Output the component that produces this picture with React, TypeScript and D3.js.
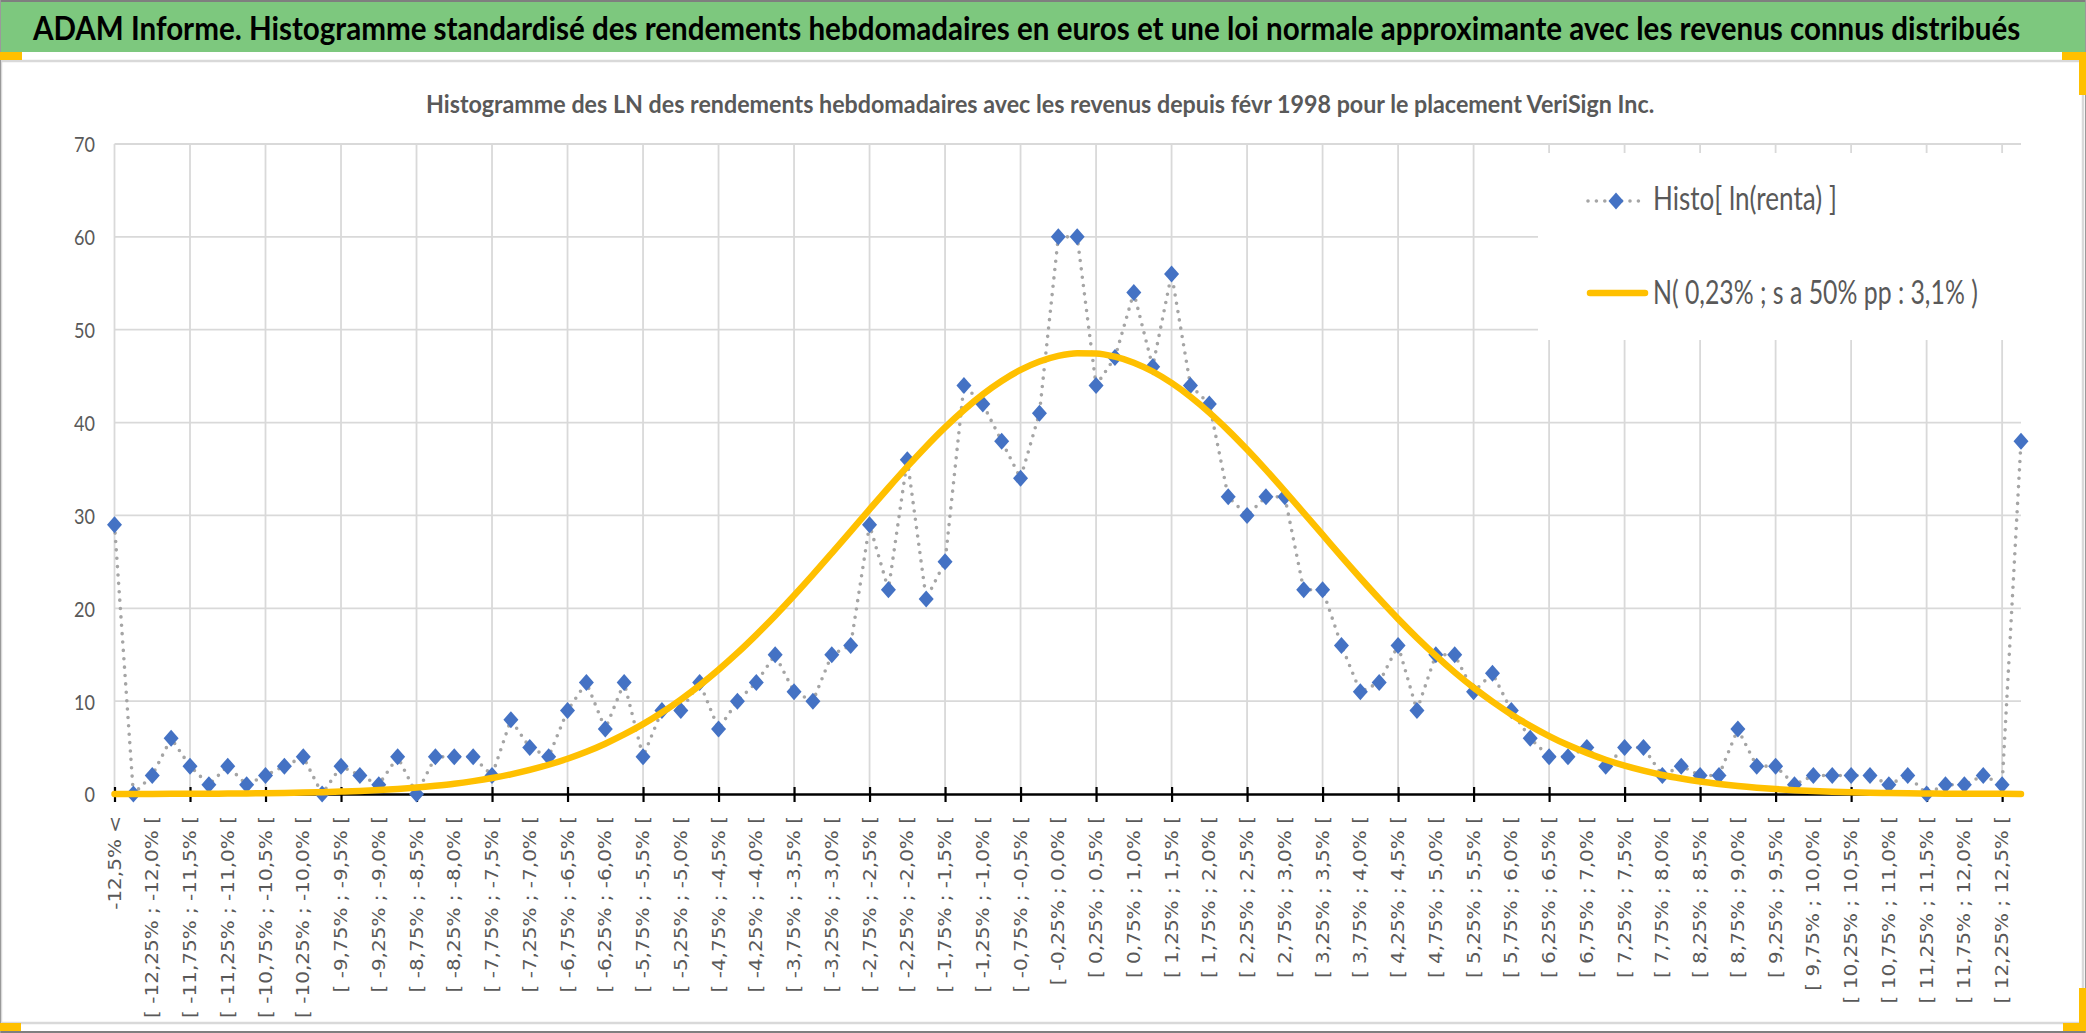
import * as d3 from "d3";
import React, { Component } from "react";

const WIDTH = 2086;
const HEIGHT = 1033;

const chartTitle =
  "ADAM Informe. Histogramme standardisé des rendements hebdomadaires en euros et une loi normale approximante avec les revenus connus distribués";
const chartSubtitle =
  "Histogramme des LN des rendements hebdomadaires avec les revenus depuis févr 1998 pour le placement VeriSign Inc.";
const legendLabels = ["Histo[ ln(renta) ]", "N( 0,23% ; s a 50% pp : 3,1% )"];

// bornes des classes de 0,25 %
const binEdges: string[] = [
  "-12,5", "-12,25", "-12,0", "-11,75", "-11,5", "-11,25", "-11,0", "-10,75", "-10,5", "-10,25",
  "-10,0", "-9,75", "-9,5", "-9,25", "-9,0", "-8,75", "-8,5", "-8,25", "-8,0", "-7,75",
  "-7,5", "-7,25", "-7,0", "-6,75", "-6,5", "-6,25", "-6,0", "-5,75", "-5,5", "-5,25",
  "-5,0", "-4,75", "-4,5", "-4,25", "-4,0", "-3,75", "-3,5", "-3,25", "-3,0", "-2,75",
  "-2,5", "-2,25", "-2,0", "-1,75", "-1,5", "-1,25", "-1,0", "-0,75", "-0,5", "-0,25",
  "0,0", "0,25", "0,5", "0,75", "1,0", "1,25", "1,5", "1,75", "2,0", "2,25",
  "2,5", "2,75", "3,0", "3,25", "3,5", "3,75", "4,0", "4,25", "4,5", "4,75",
  "5,0", "5,25", "5,5", "5,75", "6,0", "6,25", "6,5", "6,75", "7,0", "7,25",
  "7,5", "7,75", "8,0", "8,25", "8,5", "8,75", "9,0", "9,25", "9,5", "9,75",
  "10,0", "10,25", "10,5", "10,75", "11,0", "11,25", "11,5", "11,75", "12,0", "12,25",
  "12,5",
];

const categories: string[] = [
  "-12,5% <",
  ...binEdges.slice(1).map((e, i) => `[ ${binEdges[i]}% ; ${e}% [`),
  "12,5% <=",
];

// effectifs observés par classe
const histoValues: number[] = [
  29, 0, 2, 6, 3, 1, 3, 1, 2, 3,
  4, 0, 3, 2, 1, 4, 0, 4, 4, 4,
  2, 8, 5, 4, 9, 12, 7, 12, 4, 9,
  9, 12, 7, 10, 12, 15, 11, 10, 15, 16,
  29, 22, 36, 21, 25, 44, 42, 38, 34, 41,
  60, 60, 44, 47, 54, 46, 56, 44, 42, 32,
  30, 32, 32, 22, 22, 16, 11, 12, 16, 9,
  15, 15, 11, 13, 9, 6, 4, 4, 5, 3,
  5, 5, 2, 3, 2, 2, 7, 3, 3, 1,
  2, 2, 2, 2, 1, 2, 0, 1, 1, 2,
  1, 38,
];

// loi normale approximante
const normalValues: number[] = [
  0.01, 0.01, 0.01, 0.02, 0.02, 0.03, 0.05, 0.06, 0.08, 0.11,
  0.15, 0.2, 0.26, 0.33, 0.43, 0.55, 0.7, 0.89, 1.11, 1.39,
  1.72, 2.12, 2.59, 3.15, 3.8, 4.55, 5.42, 6.41, 7.52, 8.77,
  10.17, 11.7, 13.38, 15.19, 17.14, 19.2, 21.37, 23.62, 25.94, 28.29,
  30.65, 32.98, 35.25, 37.43, 39.48, 41.36, 43.04, 44.48, 45.67, 46.57,
  47.18, 47.47, 47.45, 47.1, 46.45, 45.5, 44.27, 42.78, 41.07, 39.16,
  37.09, 34.9, 32.61, 30.27, 27.92, 25.56, 23.26, 21.02, 18.86, 16.82,
  14.9, 13.1, 11.45, 9.94, 8.57, 7.34, 6.24, 5.27, 4.43, 3.69,
  3.05, 2.51, 2.05, 1.67, 1.34, 1.08, 0.86, 0.68, 0.53, 0.41,
  0.32, 0.25, 0.19, 0.14, 0.11, 0.08, 0.06, 0.04, 0.03, 0.02,
  0.02, 0.01,
];

const yTicks = [0, 10, 20, 30, 40, 50, 60, 70];

const GREY_TEXT = "#595959";
const GRID = "#D9D9D9";
const BLUE = "#4472C4";
const GOLD = "#FFC000";
const DOTS = "#A5A5A5";
const FONT = "Lato, 'Liberation Sans', sans-serif";
const diamond = "M0,-8.5L7.5,0L0,8.5L-7.5,0Z";

// squeeze a text horizontally so it spans exactly `w` pixels
function fitText(sel: d3.Selection<SVGTextElement, any, any, any>, x: number, y: number, w: number) {
  const node = sel.node()!;
  const len = node.getComputedTextLength() || w;
  sel.attr("transform", `translate(${x},${y}) scale(${w / len},1)`);
}

class HistogrammeChart extends Component<{}, {}> {
  private ref!: SVGSVGElement;

  drawChart() {
    const svg = d3.select(this.ref);
    svg.selectAll("*").remove();

    const x = d3.scalePoint<string>().domain(categories).range([114.5, 2021]);
    const y = d3.scaleLinear().domain([0, 70]).range([794, 144]);

    // fond et cadre
    svg.append("rect").attr("width", WIDTH).attr("height", HEIGHT).attr("fill", "#fff");
    svg.append("rect").attr("x", 0).attr("y", 0).attr("width", WIDTH).attr("height", 52).attr("fill", "#7DC87E");
    svg.append("line").attr("x1", 0).attr("x2", WIDTH).attr("y1", 1).attr("y2", 1).attr("stroke", "#7f7f7f").attr("stroke-width", 2);
    svg.append("rect")
      .attr("x", 1).attr("y", 61).attr("width", 2082).attr("height", 962)
      .attr("fill", "none").attr("stroke", GRID).attr("stroke-width", 2.5);
    svg.append("line").attr("x1", 0).attr("x2", WIDTH).attr("y1", 1032).attr("y2", 1032).attr("stroke", "#7f7f7f").attr("stroke-width", 2);
    svg.append("line").attr("x1", 0.5).attr("x2", 0.5).attr("y1", 0).attr("y2", HEIGHT).attr("stroke", "#9a9a9a").attr("stroke-width", 1);
    svg.append("line").attr("x1", 2085.5).attr("x2", 2085.5).attr("y1", 0).attr("y2", HEIGHT).attr("stroke", "#9a9a9a").attr("stroke-width", 1);

    const handles = [
      [0, 52, 22, 8], [2062, 52, 24, 8], [2079, 52, 7, 43],
      [0, 1023, 21, 8], [2063, 1023, 23, 8], [2079, 988, 7, 43],
    ];
    svg.selectAll(".handle").data(handles).enter().append("rect")
      .attr("x", d => d[0]).attr("y", d => d[1]).attr("width", d => d[2]).attr("height", d => d[3])
      .attr("fill", GOLD);

    const title = svg.append("text")
      .attr("font-family", FONT)
      .attr("font-weight", "bold").attr("font-size", 32).attr("fill", "#000")
      .text(chartTitle);
    fitText(title, 33, 40, 1988);

    const subtitle = svg.append("text")
      .attr("font-family", FONT)
      .attr("font-weight", "bold").attr("font-size", 25).attr("fill", GREY_TEXT)
      .text(chartSubtitle);
    fitText(subtitle, 426, 113, 1229);

    // grille
    const g = svg.append("g");
    g.selectAll(".hgrid").data(yTicks.slice(1)).enter().append("line")
      .attr("x1", 114.5).attr("x2", 2021)
      .attr("y1", d => y(d)).attr("y2", d => y(d))
      .attr("stroke", GRID).attr("stroke-width", 1.8);
    const gridCats = categories.filter((_, i) => i % 4 === 0);
    g.selectAll(".vgrid").data(gridCats).enter().append("line")
      .attr("x1", d => x(d)!).attr("x2", d => x(d)!)
      .attr("y1", y(70)).attr("y2", y(0))
      .attr("stroke", GRID).attr("stroke-width", 1.8);

    // axe des ordonnées
    const yAxis = g.append("g")
      .attr("transform", "translate(95,0)")
      .call(d3.axisLeft(y).tickValues(yTicks).tickSize(0).tickPadding(0));
    yAxis.select(".domain").remove();
    yAxis.selectAll("text")
      .attr("x", 0).attr("dy", "0.36em")
      .attr("transform", "scale(0.82,1)")
      .attr("font-family", FONT)
      .attr("font-size", 22).attr("fill", GREY_TEXT);

    // axe des abscisses
    const xAxis = g.append("g")
      .attr("transform", `translate(0,${y(0)})`)
      .call(d3.axisBottom(x).tickValues(gridCats).tickSize(8).tickSizeOuter(0).tickFormat(() => ""));
    xAxis.select(".domain").attr("stroke", "#000").attr("stroke-width", 2.6);
    xAxis.selectAll(".tick line").attr("y1", -7).attr("stroke", "#000").attr("stroke-width", 2.2);

    const labelCats = categories.filter((_, i) => i % 2 === 0);
    g.selectAll(".xlab").data(labelCats).enter().append("text")
      .attr("transform", d => `translate(${x(d)},816) rotate(-90) scale(1,0.87)`)
      .attr("text-anchor", "end")
      .attr("dominant-baseline", "central")
      .attr("font-family", "'DejaVu Sans', Verdana, sans-serif")
      .attr("font-size", 20).attr("fill", GREY_TEXT)
      .text(d => d);

    // histogramme (pointillés + losanges)
    const histoLine = d3.line<number>()
      .x((_, i) => x(categories[i])!)
      .y(d => y(d));
    g.append("path")
      .attr("d", histoLine(histoValues)!)
      .attr("fill", "none").attr("stroke", DOTS).attr("stroke-width", 3.6)
      .attr("stroke-dasharray", "0 8.4").attr("stroke-linecap", "round");
    g.selectAll(".pt").data(histoValues).enter().append("path")
      .attr("d", diamond)
      .attr("transform", (d, i) => `translate(${x(categories[i])},${y(d)})`)
      .attr("fill", BLUE);

    // loi normale
    const normalLine = d3.line<number>()
      .x((_, i) => x(categories[i])!)
      .y(d => y(d))
      .curve(d3.curveMonotoneX);
    g.append("path")
      .attr("d", normalLine(normalValues)!)
      .attr("fill", "none").attr("stroke", GOLD).attr("stroke-width", 6.5)
      .attr("stroke-linejoin", "round").attr("stroke-linecap", "round");

    // légende
    const legend = svg.append("g");
    legend.append("rect").attr("x", 1538).attr("y", 153).attr("width", 488).attr("height", 187).attr("fill", "#fff");
    legend.append("line")
      .attr("x1", 1588).attr("x2", 1643).attr("y1", 201).attr("y2", 201)
      .attr("stroke", DOTS).attr("stroke-width", 3.6)
      .attr("stroke-dasharray", "0 8.4").attr("stroke-linecap", "round");
    legend.append("path").attr("d", diamond).attr("transform", "translate(1616,201)").attr("fill", BLUE);
    legend.append("line")
      .attr("x1", 1590).attr("x2", 1645).attr("y1", 293).attr("y2", 293)
      .attr("stroke", GOLD).attr("stroke-width", 6.5).attr("stroke-linecap", "round");
    const legendY = [210, 304];
    const legendW = [184, 325];
    legendLabels.forEach((label, i) => {
      const t = legend.append("text")
        .attr("font-family", FONT)
        .attr("font-size", 33).attr("fill", GREY_TEXT)
        .text(label);
      fitText(t, 1653, legendY[i], legendW[i]);
    });
  }

  componentDidMount() {
    this.drawChart();
  }

  render() {
    return (
      <svg
        ref={(ref: SVGSVGElement) => { this.ref = ref; }}
        width={WIDTH}
        height={HEIGHT}
        style={{ position: "absolute", left: 0, top: 0, display: "block" }}
      />
    );
  }
}

export default function App() {
  return <HistogrammeChart />;
}
